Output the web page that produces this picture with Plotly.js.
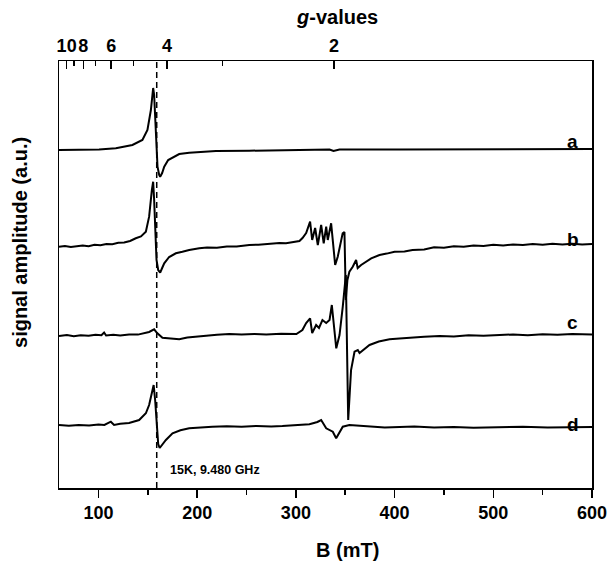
<!DOCTYPE html>
<html><head><meta charset="utf-8">
<script src="https://cdn.plot.ly/plotly-3.0.1.min.js"></script>
<style>html,body{margin:0;padding:0;background:#fff}</style>
</head><body><div id="chart" style="width:610px;height:562px"></div>
<script>
// ---- data (B in mT, amplitude in a.u.) ----
const fieldA = [60, 80.3, 100.6, 117.6, 134.4, 144.5, 149.6, 153.1, 154.4, 155.4, 156.4, 158.1, 159.8, 161.5, 162.5, 164.5, 166.6, 170.6, 175.0, 181.8, 191.9, 219.0, 252.8, 303.6, 334.1, 338.1, 344.2, 405.1, 506.6, 600];
const ampA   = [0, 0, 0.5, 1.7, 5, 10, 20, 40, 55, 62, 55, 13.3, -16.7, -25, -26.7, -23, -16.7, -10, -7.3, -4, -2.7, -1, -0.7, 0, 0.5, -1, 0.5, 0.5, 0.7, 1];

const fieldB = [60, 66, 72, 78, 84, 90, 96, 102, 108, 114, 120, 126, 132, 137.8, 143, 148.0, 151.3, 154.1, 155.4, 156.4, 157.4, 158.8, 160.5, 162.5, 164.5, 166.6, 171.6, 178.4, 185, 191.9, 202.1, 210, 220, 230, 240, 252.8, 262, 272, 283.3, 290, 298.5, 303.6, 306.7, 310.4, 314.4, 316.5, 319.5, 322.2, 325.6, 328.2, 330.7, 332.3, 335.7, 339.8, 342.4, 344.6, 347.4, 349.2, 350.6, 352.2, 354.2, 357.6, 361.0, 362.6, 366.1, 376.3, 384.7, 392, 400, 410, 418.2, 430, 440, 450, 460, 470, 480, 490, 500, 510, 520, 530, 540, 550, 560, 570, 580, 590, 600];
const ampB   = [-1.7, -1.0, -2.0, -1.2, -0.5, -1.3, 0.2, -0.3, 1.0, 0.8, 2.2, 2.5, 4.0, 6.7, 8.5, 13.3, 28.3, 55, 63.3, 45, 15, -15, -25, -27.7, -23, -18.3, -12, -8.3, -6.8, -5, -3.3, -2.5, -2.8, -1.4, -1.6, 0, 0.3, 1.3, 2, 1.8, 3.3, 4, 7, 12, 23.3, 5, 17, 0, 20, 1.7, 18.3, 5, 21.7, -20, -11.7, 0, 11.7, 13, -55, -35, -26.7, -21.7, -15, -23, -20, -13.3, -10, -8.6, -6.8, -6.5, -5, -4.5, -2.3, -2.8, -1.2, -1.8, -0.4, -1.0, 0.3, -0.5, 0.6, 0, 1.0, 0.3, 1.2, 0.5, 1.3, 0.6, 1.0];

const fieldC = [60, 68, 75, 82, 90, 97, 103, 105.7, 107.7, 115, 122, 131.0, 140, 151.3, 156.4, 159.4, 164.8, 172, 181.8, 190, 198.7, 210, 220, 232.5, 245, 258, 270, 285, 300.5, 306.6, 310.4, 314.4, 316.5, 320.5, 323.4, 326.9, 330.7, 334.1, 336.4, 340.9, 344.2, 347.5, 350.6, 353.0, 354.4, 355.9, 359.4, 362.7, 364.5, 374.6, 384, 394.9, 405, 418.2, 430, 445.6, 460, 475, 490, 506.5, 520, 535, 550, 565, 580, 600];
const ampC   = [-1, 0, -1.2, -0.3, -0.8, 0.3, -0.2, 2.5, -0.5, 0.2, -0.6, 0.5, 0.4, 3, 5.7, 2, -2.7, -3.2, -4.3, -2.6, -1.7, -0.4, 0.2, 1, 0.4, 1.1, 0.6, 1.2, 1, 5, 12, 16.7, 2, 10, 7, 15, 12, 15, 30, -13.3, 0, 28.3, 60, -85, -65, -35, -16.7, -15, -18, -10, -6.5, -4.3, -3.5, -2.3, -1.8, -1, -1.4, -0.3, -0.7, 0, 0.6, -0.2, 0.8, 0.3, 1.1, 0.6];

const fieldD = [60, 70, 80, 90.5, 100, 106, 112.5, 115.8, 122, 131.0, 141.2, 148.0, 151.3, 153.9, 155.9, 157.4, 159.0, 160.5, 162.0, 164.5, 168.3, 175.0, 183, 191.9, 200, 215.3, 230, 245, 260, 275, 286.3, 300, 313.7, 321.8, 325.6, 330.7, 337.4, 340.8, 344.2, 347.5, 354.2, 364, 374.6, 390, 405.1, 420, 440, 460, 480, 506.6, 530, 555, 580, 600];
const ampD   = [1, 0.2, 1.1, 0.5, 1.4, 1.0, 4.3, 1, 2.2, 3, 6, 12.7, 21, 33, 41, 26, -4, -18, -22, -19, -14, -7.3, -4.2, -2.3, -1.6, -0.7, -0.2, -0.8, 0.1, -0.4, 0, 0.8, 1.7, 4, 6, -2.3, -5.7, -12.3, -5.7, -0.7, 1, 0.2, -0.7, -1.5, -1, -0.4, -1.4, -0.9, -1.8, -1.5, -0.8, -1.6, -0.9, -1];

const spectrumLabels = ['a', 'b', 'c', 'd'];
const bTicks = [100, 200, 300, 400, 500, 600];
const gMajor = [10, 8, 6, 4, 2];
const gMinor = [9, 7, 5, 3];
const freqGHz = 9.480;
const markerField = 159;           // dashed line (mT)
const noteText = '15K, 9.480 GHz';

// ---- presentation ----
const stackOffset = [338, 243, 153, 62];
const fields = [fieldA, fieldB, fieldC, fieldD];
const amps = [ampA, ampB, ampC, ampD];
const gToB = g => 71.4477 * freqGHz / g;   // B (mT) = h·ν / (g·μB)

const FONT = {family: 'Liberation Sans, Arial, sans-serif', color: '#000', weight: 'bold'};
const f = s => Object.assign({}, FONT, {size: s});

const traces = fields.map((x, i) => ({
  type: 'scatter', mode: 'lines', name: spectrumLabels[i],
  x: x, y: amps[i].map(v => v + stackOffset[i]),
  line: {color: '#000', width: 2}, hoverinfo: 'skip', showlegend: false
}));
traces.push({type: 'scatter', mode: 'lines', x: [60, 600], y: [null, null], xaxis: 'x2', yaxis: 'y',
  showlegend: false, hoverinfo: 'skip'});

const labelY = [347, 249, 166, 64];
const annotations = spectrumLabels.map((t, i) => ({
  text: t, x: 580.6, y: labelY[i], xref: 'x', yref: 'y', showarrow: false, font: f(19)
}));
annotations.push({text: noteText, x: 218, y: 18, xref: 'x', yref: 'y', showarrow: false, font: f(12.5)});
annotations.push({text: 'signal amplitude (a.u.)', textangle: -90, xref: 'paper', yref: 'paper',
  x: -0.073, y: 0.574, xanchor: 'center', yanchor: 'middle', showarrow: false, font: f(20)});
annotations.push({text: 'B (mT)', xref: 'paper', yref: 'paper', x: 0.541, y: -0.145,
  xanchor: 'center', yanchor: 'middle', showarrow: false, font: f(20)});
annotations.push({text: '<i>g</i>-values', xref: 'paper', yref: 'paper', x: 0.5216, y: 1.103,
  xanchor: 'center', yanchor: 'middle', showarrow: false, font: f(20)});

const layout = {
  width: 610, height: 562,
  margin: {l: 59, r: 18, t: 61, b: 74, pad: 0},
  paper_bgcolor: '#fff', plot_bgcolor: '#fff',
  showlegend: false,
  xaxis: {
    range: [60, 600], tickmode: 'array', tickvals: bTicks, ticktext: bTicks.map(String), tickangle: 0,
    ticks: 'outside', ticklen: 8, tickwidth: 1.5, tickcolor: '#000',
    minor: {tickmode: 'linear', tick0: 50, dtick: 100, ticks: 'outside', ticklen: 5, tickwidth: 1.5, tickcolor: '#000'},
    showline: true, linewidth: 1.5, linecolor: '#000', mirror: true,
    showgrid: false, zeroline: false, tickfont: f(18)
  },
  xaxis2: {
    overlaying: 'x', side: 'top', anchor: 'y', range: [60, 600],
    tickmode: 'array', tickvals: gMajor.map(gToB), ticktext: gMajor.map(String), tickangle: 0,
    ticks: 'inside', ticklen: 8, tickwidth: 1.5, tickcolor: '#000', ticklabelstandoff: 4,
    minor: {tickmode: 'array', tickvals: gMinor.map(gToB), ticks: 'inside', ticklen: 5, tickwidth: 1.5, tickcolor: '#000'},
    showline: false, showgrid: false, zeroline: false, tickfont: f(18)
  },
  yaxis: {
    range: [0, 427], showticklabels: false, ticks: '',
    showline: true, linewidth: 1.5, linecolor: '#000', mirror: true,
    showgrid: false, zeroline: false
  },
  shapes: [{type: 'line', xref: 'x', yref: 'paper', x0: markerField, x1: markerField, y0: 0, y1: 1,
    line: {color: '#000', width: 1.5, dash: '6px,4px'}}],
  annotations: annotations
};

Plotly.newPlot('chart', traces, layout, {displayModeBar: false, staticPlot: true});
</script></body></html>
